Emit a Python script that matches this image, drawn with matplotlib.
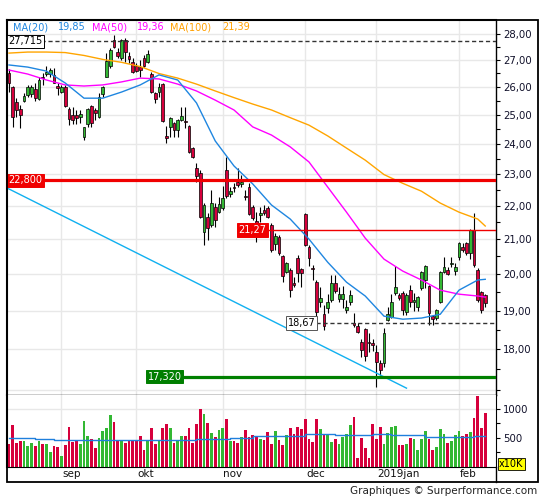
import numpy as np
import pandas as pd
import matplotlib
matplotlib.use('Agg')
import matplotlib.pyplot as plt
from matplotlib.patches import Rectangle
from matplotlib.lines import Line2D
from matplotlib.ticker import FixedLocator, FuncFormatter, NullFormatter

# trading days on the chart (Euronext calendar)
dates = pd.bdate_range('2018-08-14', '2019-02-12')
dates = dates[~dates.isin(pd.to_datetime(['2018-12-25', '2018-12-26', '2019-01-01']))]
month_labels = ['sep', 'okt', 'nov', 'dec', '2019jan', 'feb']

opens = [26.50, 26.00, 25.46, 25.19, 25.50, 25.70, 25.73, 25.91, 25.56, 26.37,
         26.46, 26.46, 26.44, 26.04, 25.80, 26.00, 25.19, 24.99, 24.99, 24.91,
         24.22, 24.68, 25.31, 25.17, 24.91, 25.73, 26.37, 26.78, 27.77, 27.30,
         27.06, 27.77, 27.15, 26.93, 26.77, 26.74, 27.06, 26.93, 26.46, 25.76,
         25.82, 26.10, 24.27, 24.59, 24.70, 24.49, 24.82, 24.78, 24.61, 23.86,
         23.20, 23.04, 21.21, 21.66, 21.42, 21.96, 21.81, 21.93, 23.14, 22.37,
         22.59, 22.75, 22.69, 22.31, 22.59, 21.96, 21.54, 21.72, 21.87, 21.93,
         21.42, 20.85, 21.06, 20.51, 20.05, 20.11, 19.74, 20.45, 20.14, 21.75,
         20.77, 20.16, 19.77, 19.22, 18.90, 19.06, 19.28, 19.74, 19.31, 19.31,
         19.01, 19.22, 18.66, 18.59, 18.17, 18.51, 18.17, 18.15, 17.92, 17.65,
         17.65, 18.75, 18.82, 19.47, 19.41, 19.47, 18.96, 19.55, 19.22, 19.09,
         19.60, 19.83, 19.66, 18.85, 18.80, 19.22, 20.05, 20.11, 20.28, 20.08,
         20.48, 20.77, 20.88, 20.59, 21.27, 20.11, 19.50, 19.41]
highs = [26.65, 26.02, 25.58, 25.35, 25.76, 26.07, 26.07, 26.13, 26.37, 26.50,
         26.77, 26.69, 26.70, 26.13, 26.07, 26.07, 25.28, 25.28, 25.17, 25.17,
         24.59, 25.23, 25.35, 25.23, 25.76, 26.03, 27.28, 27.44, 27.96, 27.44,
         27.79, 27.83, 27.30, 27.06, 26.87, 27.00, 27.19, 27.38, 26.56, 25.82,
         26.13, 26.13, 24.60, 24.93, 24.76, 24.84, 25.28, 25.28, 24.64, 23.89,
         23.36, 23.14, 22.10, 21.78, 22.50, 22.09, 22.28, 22.62, 23.56, 22.59,
         22.72, 23.20, 22.97, 22.50, 22.72, 22.03, 21.81, 21.96, 22.03, 22.00,
         21.48, 21.18, 21.12, 20.54, 20.33, 20.16, 19.91, 20.54, 20.16, 21.78,
         20.83, 20.25, 19.83, 19.64, 19.14, 19.44, 19.97, 19.97, 19.64, 19.66,
         19.28, 19.55, 18.93, 18.66, 18.25, 18.53, 18.41, 18.25, 18.10, 17.72,
         18.53, 19.09, 19.44, 20.22, 19.47, 19.52, 19.47, 19.69, 19.47, 19.38,
         20.08, 20.25, 19.69, 18.88, 19.04, 20.08, 20.48, 20.19, 20.48, 20.31,
         20.91, 20.88, 20.91, 21.30, 21.78, 20.16, 19.52, 19.45]
lows = [25.82, 24.56, 24.91, 24.53, 25.46, 25.64, 25.63, 25.50, 25.52, 26.07,
        26.40, 26.37, 26.14, 25.70, 25.76, 25.28, 24.64, 24.68, 24.67, 24.70,
        24.13, 24.59, 24.59, 24.82, 24.88, 25.64, 26.37, 26.68, 27.44, 27.06,
        27.00, 26.93, 26.87, 26.50, 26.56, 26.37, 26.74, 26.87, 25.76, 25.41,
        25.64, 24.76, 24.02, 24.24, 24.24, 24.22, 24.78, 24.54, 23.69, 23.53,
        22.75, 21.63, 20.83, 20.97, 21.36, 21.36, 21.78, 21.87, 22.26, 22.28,
        22.43, 22.59, 22.59, 22.18, 21.72, 21.57, 20.91, 21.51, 21.72, 21.63,
        20.62, 20.68, 20.54, 19.77, 20.02, 19.36, 19.63, 19.77, 19.63, 20.80,
        20.22, 19.83, 18.72, 19.09, 18.48, 18.93, 19.22, 19.47, 19.22, 19.06,
        18.93, 19.14, 18.56, 18.41, 17.80, 17.70, 17.92, 17.95, 17.06, 17.35,
        17.55, 18.72, 18.80, 19.41, 19.28, 18.88, 18.88, 19.09, 18.98, 18.98,
        19.55, 19.60, 18.61, 18.61, 18.75, 19.20, 20.03, 19.97, 20.19, 19.97,
        20.39, 20.62, 20.54, 20.42, 20.19, 19.23, 18.93, 19.09]
closes = [26.15, 24.91, 25.17, 24.99, 25.67, 25.98, 25.98, 25.58, 26.25, 26.31,
          26.56, 26.62, 26.15, 25.95, 25.98, 25.31, 24.84, 24.82, 24.88, 25.03,
          24.56, 25.19, 24.72, 25.07, 25.64, 25.98, 26.97, 27.38, 27.51, 27.15,
          27.77, 27.30, 27.02, 26.56, 26.60, 26.62, 26.77, 27.24, 25.82, 25.55,
          26.00, 24.78, 24.19, 24.88, 24.49, 24.82, 24.96, 24.75, 23.73, 23.56,
          22.94, 21.66, 22.03, 21.33, 22.09, 21.57, 22.06, 22.24, 22.30, 22.46,
          22.56, 22.65, 22.75, 22.28, 21.75, 21.63, 21.48, 21.78, 21.78, 21.66,
          20.68, 21.09, 20.59, 19.94, 20.31, 19.55, 19.69, 20.02, 20.02, 20.83,
          20.45, 20.14, 18.96, 19.33, 18.59, 19.22, 19.74, 19.52, 19.44, 19.44,
          19.09, 19.41, 18.63, 18.43, 17.97, 17.82, 18.15, 18.10, 17.67, 17.48,
          18.41, 18.91, 19.22, 19.64, 19.33, 19.01, 19.41, 19.23, 19.28, 19.36,
          20.05, 20.22, 18.93, 18.77, 19.01, 20.05, 20.19, 20.00, 20.31, 20.19,
          20.88, 20.68, 20.59, 21.27, 20.25, 19.28, 19.01, 19.20]
# volume in units of 10K shares
volume = [391, 719, 420, 443, 443, 357, 420, 357, 443, 391,
          403, 259, 357, 345, 184, 374, 690, 431, 460, 391,
          788, 529, 489, 334, 506, 615, 673, 891, 771, 443,
          460, 414, 472, 472, 472, 529, 299, 472, 673, 403,
          443, 673, 736, 673, 420, 472, 529, 529, 673, 420,
          736, 995, 909, 759, 587, 518, 633, 673, 822, 443,
          443, 414, 518, 633, 518, 546, 518, 489, 460, 604,
          391, 621, 460, 374, 546, 673, 575, 690, 650, 822,
          477, 426, 822, 650, 575, 575, 431, 477, 391, 512,
          575, 719, 863, 150, 495, 328, 150, 742, 477, 684,
          391, 581, 690, 702, 385, 385, 397, 506, 477, 288,
          477, 615, 477, 288, 345, 661, 569, 414, 443, 552,
          615, 535, 569, 598, 845, 1225, 673, 932]

# moving averages every 5 sessions
ma_idx = [0, 5, 10, 15, 20, 25, 30, 35, 40, 45, 50, 55, 60, 65, 70,
          75, 80, 85, 90, 95, 100, 105, 110, 115, 120, 125, 127]
ma20 = [26.81, 26.73, 26.58, 26.14, 25.59, 25.59, 25.81, 26.07, 26.44, 26.25,
        25.42, 24.10, 23.27, 22.69, 22.03, 21.60, 21.00, 20.33, 19.77, 19.39,
        18.85, 18.77, 18.80, 18.90, 19.55, 19.83, 19.85]
ma50 = [26.62, 26.47, 26.25, 26.07, 26.03, 26.07, 26.18, 26.32, 26.29, 26.10,
        25.85, 25.52, 25.17, 24.58, 24.30, 23.90, 23.40, 22.59, 21.81, 21.03,
        20.42, 20.08, 19.83, 19.55, 19.44, 19.39, 19.36]
ma100 = [27.26, 27.30, 27.30, 27.28, 27.17, 27.02, 26.91, 26.75, 26.49, 26.32,
         26.10, 25.85, 25.61, 25.38, 25.17, 24.90, 24.64, 24.27, 23.86, 23.46,
         22.99, 22.71, 22.46, 22.09, 21.81, 21.60, 21.39]
vol_ma_idx = [0, 7, 12, 18, 19, 50, 59, 65, 72, 79, 87, 97, 102, 111, 124, 127]
vol_ma = [506, 489, 472, 460, 472, 489, 500, 529, 535, 564, 558, 569, 546, 512, 529, 529]

trend_idx = [-0.5, 106]
trend_val = [22.56, 17.04]

legend_items = [('MA(20)', '19,85', '#1f86e0'), ('MA(50)', '19,36', '#ff00ff'),
                ('MA(100)', '21,39', '#ffa000')]
high_lvl = 27.715
res_lvl = 22.8
res2_lvl = 21.27
sup_lvl = 18.67
low_lvl = 17.32

RED = '#d6003c'
GREEN = '#33b833'
GRID = '#e8e8e8'

W, H = 545, 500
def fx(px):
    return px / W
def fy(py):
    return 1 - py / H

fig = plt.figure(figsize=(W / 100, H / 100), dpi=100)
ax = fig.add_axes([fx(7), fy(395), fx(496) - fx(7), fy(20) - fy(395)])
axv = fig.add_axes([fx(7), fy(467), fx(496) - fx(7), fy(395) - fy(467)], sharex=ax)

o = np.array(opens); h = np.array(highs); l = np.array(lows); c = np.array(closes)
x = np.arange(len(o))
up = c >= o
col = np.where(up, GREEN, RED)

month_start = [i for i in range(1, len(dates)) if dates[i].month != dates[i - 1].month]

####price panel
ax.set_yscale('log')
ax.set_ylim(16.877, 28.555)
ax.set_xlim(-0.53, 129.87)
for m in month_start:
    ax.axvline(m, color=GRID, lw=1, zorder=0)
    axv.axvline(m, color=GRID, lw=1, zorder=0)
for v in range(17, 29):
    ax.axhline(v, color=GRID, lw=1, zorder=0)

ax.vlines(x, l, h, color='black', lw=0.8, zorder=3)
body = np.maximum(np.abs(c - o), 0.03)
ax.bar(x, body, bottom=np.minimum(o, c), width=0.7, color=col,
       edgecolor='black', linewidth=0.5, zorder=3.2)

ax.plot(ma_idx, ma100, color='#ffa500', lw=1, zorder=3.5)
ax.plot(ma_idx, ma50, color='#ff00ff', lw=1, zorder=3.5)
ax.plot(ma_idx, ma20, color='#1f86e0', lw=1, zorder=3.5)
ax.plot(trend_idx, trend_val, color='#10b0f0', lw=1, zorder=3.5)

xr = ax.get_xlim()[1]
ax.plot([8.5, xr], [high_lvl, high_lvl], color='#333333', lw=1, ls=(0, (3, 2)), zorder=4)
ax.plot([-0.53, xr], [res_lvl, res_lvl], color='#f00000', lw=2.3, zorder=4)
ax.plot([68.5, xr], [res2_lvl, res2_lvl], color='#f00000', lw=1, zorder=4)
ax.plot([82, xr], [sup_lvl, sup_lvl], color='#333333', lw=1, ls=(0, (3, 2)), zorder=4)
ax.plot([46.5, xr], [low_lvl, low_lvl], color='#008000', lw=2.3, zorder=4)

def tag(xpos, y, s, fc, ec, tc):
    ax.text(xpos, y, s, ha='left', va='center', fontsize=7, color=tc, zorder=6,
            bbox=dict(boxstyle='square,pad=0.18', fc=fc, ec=ec, lw=0.7))

tag(-0.2, high_lvl, f'{high_lvl:.3f}'.replace('.', ','), 'white', 'black', 'black')
tag(-0.2, res_lvl, f'{res_lvl:.3f}'.replace('.', ','), '#f00000', '#f00000', 'white')
tag(61.2, res2_lvl, f'{res2_lvl:.2f}'.replace('.', ','), '#f00000', '#f00000', 'white')
tag(74.3, sup_lvl, f'{sup_lvl:.2f}'.replace('.', ','), 'white', '#555555', 'black')
tag(37.0, low_lvl, f'{low_lvl:.3f}'.replace('.', ','), '#007f00', '#007f00', 'white')

ax.yaxis.tick_right()
ax.yaxis.set_major_locator(FixedLocator(range(17, 29)))
ax.yaxis.set_minor_locator(FixedLocator([v + 0.5 for v in range(17, 28)]))
ax.yaxis.set_major_formatter(FuncFormatter(
    lambda v, p: '' if v < 17.5 else f'{v:.2f}'.replace('.', ',')))
ax.yaxis.set_minor_formatter(NullFormatter())
ax.tick_params(axis='y', which='both', direction='out', length=3, width=0.8,
               labelsize=7.3, pad=2, labelcolor='#10102a')
ax.tick_params(axis='x', bottom=False, labelbottom=False)
for s in ['left', 'top']:
    ax.spines[s].set_linewidth(1.5)
for s in ['right', 'bottom']:
    ax.spines[s].set_linewidth(1.0)

####volume panel
axv.set_ylim(0, 1241)
axv.axhline(1000, color=GRID, lw=1, zorder=0)
axv.bar(x, volume, width=0.72, color=col, zorder=2)
axv.plot(vol_ma_idx, vol_ma, color='#1f7fdc', lw=1, drawstyle='steps-post', zorder=3)
axv.yaxis.tick_right()
axv.yaxis.set_major_locator(FixedLocator([500, 1000]))
axv.yaxis.set_minor_locator(FixedLocator([250, 750]))
axv.tick_params(axis='y', which='both', direction='out', length=3, width=0.8,
                labelsize=7.3, pad=2, labelcolor='#10102a')
axv.tick_params(axis='x', bottom=False, labelbottom=False)
axv.spines['top'].set_visible(False)
axv.spines['left'].set_linewidth(1.5)

for m, lab in zip(month_start, month_labels):
    axv.annotate(lab, xy=(m, 0), xycoords=('data', 'axes fraction'),
                 xytext=(0.5, -1.5), textcoords='offset points',
                 ha='left', va='top', fontsize=7.5, color='#111111')

####frame and texts
fig.add_artist(Rectangle((fx(7), fy(482)), fx(538) - fx(7), fy(20) - fy(482),
                         transform=fig.transFigure, fill=False, ec='black', lw=1.3))
fig.add_artist(Line2D([fx(496), fx(496)], [fy(482), fy(467)],
                      transform=fig.transFigure, color='black', lw=1))

xs = [13, 58, 92, 137, 170, 222]
k = 0
for name, val, clr in legend_items:
    fig.text(fx(xs[k]), fy(27), name, color=clr, fontsize=7, va='center', ha='left')
    fig.text(fx(xs[k + 1]), fy(27), val, color=clr, fontsize=7, va='center', ha='left')
    k += 2

fig.text(fx(499), fy(464), 'x10K', fontsize=7, va='center', ha='left',
         bbox=dict(boxstyle='square,pad=0.15', fc='#ffff00', ec='black', lw=0.6))
fig.text(fx(537), fy(491), 'Graphiques \u00a9 Surperformance.com', ha='right',
         va='center', fontsize=7.5, color='#222222')

plt.savefig('out.png', dpi=100)
plt.close()
